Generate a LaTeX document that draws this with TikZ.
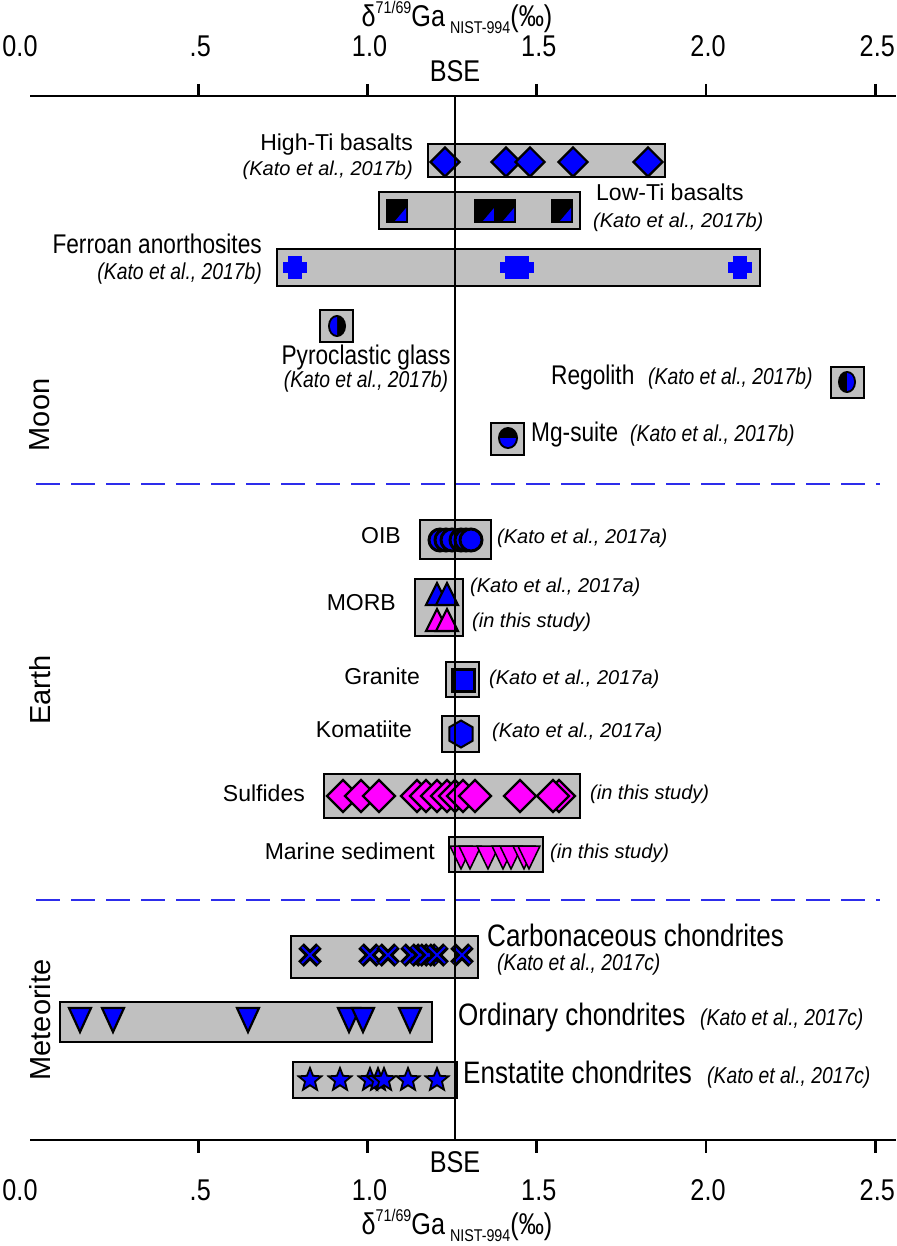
\documentclass[tikz,border=0pt]{standalone}
\usepackage{fontspec}
\setmainfont{Liberation Sans}
\newfontfamily\narrowsf[FakeStretch=0.84]{Liberation Sans}
\usetikzlibrary{shapes.geometric}
\definecolor{boxgray}{RGB}{192,192,192}
\definecolor{mag}{RGB}{255,0,255}
\definecolor{dashblue}{RGB}{45,45,235}

\begin{document}
\begin{tikzpicture}[x=1pt,y=-1pt,
    grp/.style={draw=black,fill=boxgray,line width=1.4pt},
    lab/.style={font=\fontsize{23}{25}\selectfont,inner sep=0pt},
    nlab/.style={font=\narrowsf\fontsize{27}{29}\selectfont,inner sep=0pt},
    mlab/.style={font=\narrowsf\fontsize{31}{33}\selectfont,inner sep=0pt},
    cite/.style={font=\itshape\fontsize{20}{22}\selectfont,inner sep=0pt},
    ncite/.style={font=\narrowsf\itshape\fontsize{23}{25}\selectfont,inner sep=0pt}]
\useasboundingbox (0,0) rectangle (896,1246);

% group boxes
\draw[grp] (428,144) rectangle (665,177);
\draw[grp] (379,192) rectangle (580,229);
\draw[grp] (277,249) rectangle (760,286);
\draw[grp] (320,310) rectangle (353,342);
\draw[grp] (831,367) rectangle (864,398);
\draw[grp] (491,423) rectangle (524,455);
\draw[grp] (420,520) rectangle (491,559);
\draw[grp] (415,579) rectangle (463,636);
\draw[grp] (446,662) rectangle (479,697);
\draw[grp] (442,716) rectangle (479,752);
\draw[grp] (324,774) rectangle (580,818);
\draw[grp] (449,837) rectangle (543,872);
\draw[grp] (291,936) rectangle (478,978);
\draw[grp] (60,1002) rectangle (432,1042);
\draw[grp] (293,1062) rectangle (457,1098);

% Moon
\begin{scope}[every node/.style={diamond,draw=black,fill=blue,line width=2.2pt,minimum size=30pt,inner sep=0pt}]
  \foreach \x [count=\i] in {445,506,530,573,648}
    \node (hti\i) at (\x,162) {};
\end{scope}
\foreach \x in {397,485,505,562} {
  \fill[black] (\x-11,199) rectangle (\x+11,223);
  \fill[blue] (\x-2,221) -- (\x+9,221) -- (\x+9,208) -- cycle;
}
\foreach \x in {295,512,522,740} {
  \fill[blue] (\x-12,262) rectangle (\x+12,273);
  \fill[blue] (\x-7,256) rectangle (\x+7,279);
}
\fill[black] (337,326) ellipse [x radius=9, y radius=11];
\begin{scope}
  \clip (326,313) rectangle (337,339);
  \fill[blue] (337,326) ellipse [x radius=7, y radius=9];
\end{scope}
\fill[black] (847,382) ellipse [x radius=9, y radius=11];
\begin{scope}
  \clip (847,369) rectangle (858,395);
  \fill[blue] (847,382) ellipse [x radius=7, y radius=9];
\end{scope}
\fill[black] (508,438) ellipse [x radius=10, y radius=11];
\begin{scope}
  \clip (496,438) rectangle (520,451);
  \fill[blue] (508,438) ellipse [x radius=8, y radius=9];
\end{scope}

% Earth
\begin{scope}[every node/.style={circle,draw=black,fill=blue,line width=3pt,minimum size=22pt,inner sep=0pt}]
  \foreach \x [count=\i] in {440,446,452,461,466,471}
    \node (oib\i) at (\x,540) {};
\end{scope}
\foreach \x in {437,447} {
  \draw[fill=blue,line width=2.2pt] (\x-11,605) -- (\x+11,605) -- (\x,583) -- cycle;
  \draw[fill=mag,line width=2.2pt] (\x-11,631) -- (\x+11,631) -- (\x,609) -- cycle;
}
\node[rectangle,draw=black,fill=blue,line width=3pt,minimum size=22pt,inner sep=0pt] (gran1) at (463,680) {};
\node[regular polygon,regular polygon sides=6,shape border rotate=30,draw=black,fill=blue,line width=2pt,minimum size=27pt,inner sep=0pt] (koma1) at (461,734) {};
\begin{scope}[every node/.style={diamond,draw=black,fill=mag,line width=2.4pt,minimum size=33pt,inner sep=0pt}]
  \foreach \x [count=\i] in {343,361,379,417,426,437,447,455,463,475,520,559,553}
    \node (sulf\i) at (\x,796) {};
\end{scope}
\foreach \x in {461,470,488,503,511,524,529}
  \draw[fill=mag,line width=1.5pt] (\x-11,846) -- (\x+11,846) -- (\x,869) -- cycle;

% Meteorite
\foreach \x in {310,370,388,412,420,428,437,462} {
  \draw[line width=8pt] (\x-9,946) -- (\x+9,964) (\x-9,964) -- (\x+9,946);
  \draw[blue,line width=2pt] (\x-8,947) -- (\x+8,963) (\x-8,963) -- (\x+8,947);
}
\foreach \x in {80,113,248,349,363,410}
  \draw[fill=blue,line width=2.2pt] (\x-11,1008) -- (\x+11,1008) -- (\x,1032) -- cycle;
\begin{scope}[every node/.style={star,star points=5,star point ratio=2.3,draw=black,fill=blue,line width=1.8pt,minimum size=24pt,inner sep=0pt}]
  \foreach \x [count=\i] in {310,340,370,378,384,408,437}
    \node (ens\i) at (\x,1080) {};
\end{scope}

% section dividers
\draw[dashblue,line width=1.3pt,dash pattern=on 24pt off 11pt] (36,484) -- (880,484);
\draw[dashblue,line width=1.3pt,dash pattern=on 24pt off 11pt] (36,900) -- (880,900);

% axes
\begin{scope}[line width=2.6pt]
  \draw (30,96) -- (896,96);
  \draw (30,1140) -- (896,1140);
  \foreach \v in {0.5,1.0,1.5,2.0,2.5} {
    \draw ({29+338.5*\v},84) -- ({29+338.5*\v},96);
    \draw ({29+338.5*\v},1140) -- ({29+338.5*\v},1153);
  }
\end{scope}
\draw[line width=1.5pt] (455,96) -- (455,1140);

\begin{scope}[every node/.style={font=\narrowsf\fontsize{30}{32}\selectfont,inner sep=0pt}]
  \foreach \v/\t [count=\i] in {0/0.0,0.5/.5,1/1.0,1.5/1.5,2/2.0,2.5/2.5} {
    \node (tt\i) at ({29+338.5*\v+(\i==1 ? -9 : 2)},46) {\t};
    \node (tb\i) at ({29+338.5*\v+(\i==1 ? -9 : 2)},1190) {\t};
  }
  \node (bse-t) at (455,71) {BSE};
  \node (bse-b) at (455,1162) {BSE};
  \node (xlab-t) at (457,17) {δ\raisebox{13pt}{\fontsize{17}{17}\selectfont 71/69}Ga\,\raisebox{-7pt}{\fontsize{17}{17}\selectfont NIST-994}(‰)};
  \node (xlab-b) at (457,1225) {δ\raisebox{13pt}{\fontsize{17}{17}\selectfont 71/69}Ga\,\raisebox{-7pt}{\fontsize{17}{17}\selectfont NIST-994}(‰)};
\end{scope}

\begin{scope}[every node/.style={font=\fontsize{29}{31}\selectfont,rotate=90,inner sep=0pt}]
  \node (moon) at (40,415) {Moon};
  \node (earth) at (40,690) {Earth};
  \node (met) at (40,1020) {Meteorite};
\end{scope}

% labels
\node[lab,anchor=mid east] (hiti) at (413,148) {High-Ti basalts};
\node[cite,anchor=mid east] (hiti-c) at (413,173) {(Kato et al., 2017b)};
\node[lab,anchor=mid west] (loti) at (596,198) {Low-Ti basalts};
\node[cite,anchor=mid west] (loti-c) at (593,225) {(Kato et al., 2017b)};
\node[nlab,anchor=mid east] (fan) at (262,251) {Ferroan anorthosites};
\node[ncite,anchor=mid east] (fan-c) at (262,277) {(Kato et al., 2017b)};
\node[nlab] (pyro) at (366,358) {Pyroclastic glass};
\node[ncite] (pyro-c) at (366,382) {(Kato et al., 2017b)};
\node[nlab,anchor=mid west] (rego) at (551,382) {Regolith};
\node[ncite,anchor=mid west] (rego-c) at (648,382) {(Kato et al., 2017b)};
\node[nlab,anchor=mid west] (mgs) at (531,439) {Mg-suite};
\node[ncite,anchor=mid west] (mgs-c) at (630,439) {(Kato et al., 2017b)};

\node[lab,anchor=mid east] (oib) at (401,541) {OIB};
\node[cite,anchor=mid west] (oib-c) at (497,541) {(Kato et al., 2017a)};
\node[lab,anchor=mid east] (morb) at (396,608) {MORB};
\node[cite,anchor=mid west] (morb-c1) at (470,590) {(Kato et al., 2017a)};
\node[cite,anchor=mid west] (morb-c2) at (472,625) {(in this study)};
\node[lab,anchor=mid east] (gran) at (420,682) {Granite};
\node[cite,anchor=mid west] (gran-c) at (489,682) {(Kato et al., 2017a)};
\node[lab,anchor=mid east] (koma) at (412,735) {Komatiite};
\node[cite,anchor=mid west] (koma-c) at (492,735) {(Kato et al., 2017a)};
\node[lab,anchor=mid east] (sulf) at (305,799) {Sulfides};
\node[cite,anchor=mid west] (sulf-c) at (590,797) {(in this study)};
\node[lab,anchor=mid east] (mars) at (435,857) {Marine sediment};
\node[cite,anchor=mid west] (mars-c) at (550,856) {(in this study)};

\node[mlab,anchor=mid west] (carb) at (487,944) {Carbonaceous chondrites};
\node[ncite,anchor=mid west] (carb-c) at (497,968) {(Kato et al., 2017c)};
\node[mlab,anchor=mid west] (ord) at (458,1023) {Ordinary chondrites};
\node[ncite,anchor=mid west] (ord-c) at (700,1023) {(Kato et al., 2017c)};
\node[mlab,anchor=mid west] (ens) at (463,1081) {Enstatite chondrites};
\node[ncite,anchor=mid west] (ens-c) at (707,1081) {(Kato et al., 2017c)};
\end{tikzpicture}
\end{document}
